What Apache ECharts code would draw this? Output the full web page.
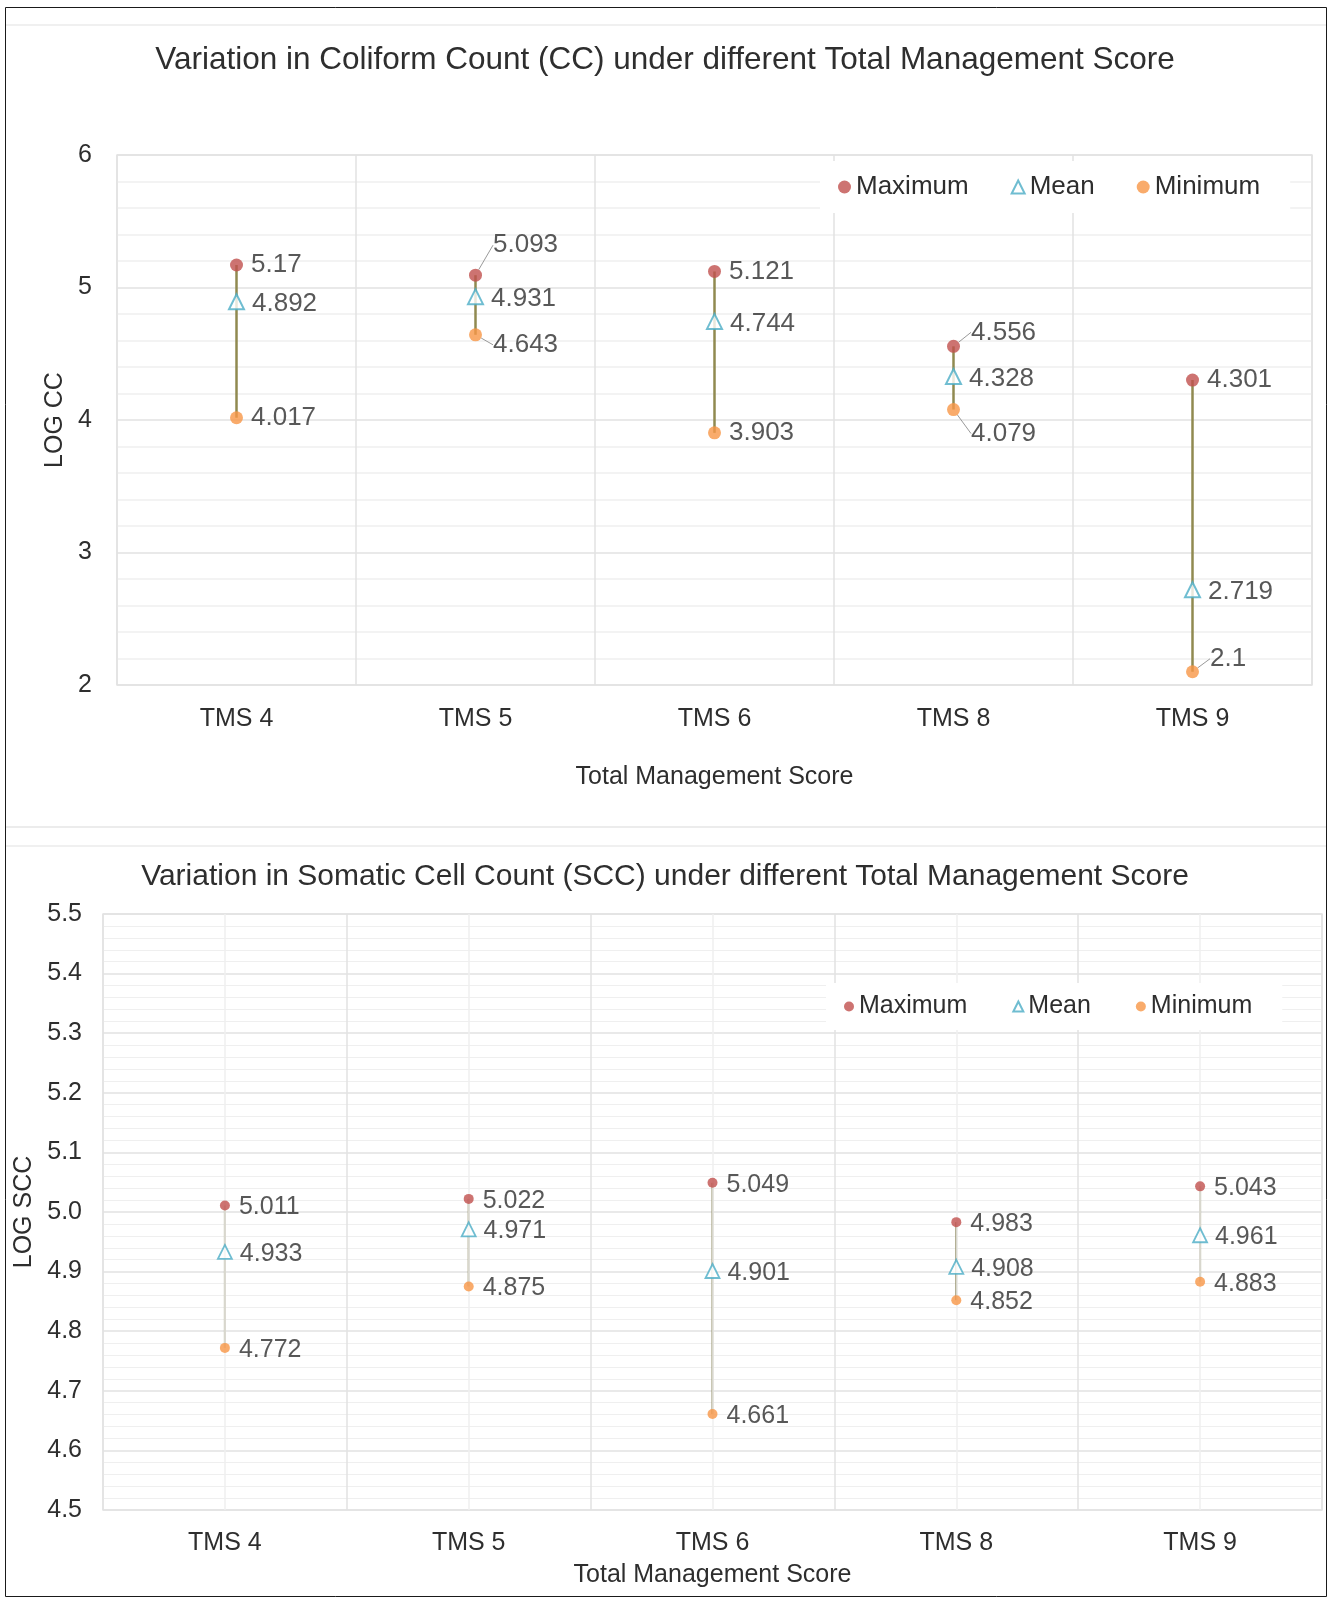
<!DOCTYPE html>
<html>
<head>
<meta charset="utf-8">
<script src="https://cdn.jsdelivr.net/npm/echarts@6/dist/echarts.min.js"></script>
<style>
  html, body { margin: 0; padding: 0; background: #ffffff; }
  #chart { width: 1330px; height: 1598px; }
</style>
</head>
<body>
<div id="chart"></div>
<script>
// Categories shared by both panels
const categories = ['TMS 4', 'TMS 5', 'TMS 6', 'TMS 8', 'TMS 9'];

// Coliform count (log CC)
const ccMax  = [5.17, 5.093, 5.121, 4.556, 4.301];
const ccMean = [4.892, 4.931, 4.744, 4.328, 2.719];
const ccMin  = [4.017, 4.643, 3.903, 4.079, 2.1];

// Somatic cell count (log SCC)
const sccMax  = [5.011, 5.022, 5.049, 4.983, 5.043];
const sccMean = [4.933, 4.971, 4.901, 4.908, 4.961];
const sccMin  = [4.772, 4.875, 4.661, 4.852, 4.883];

// Y axis tick ranges
const ccTicks  = { min: 2, max: 6, step: 1 };
const sccTicks = { min: 4.5, max: 5.5, step: 0.1 };

// Vertical nudges for labels that sit off their marker (with a leader line)
const ccMaxNudge  = [0, -30, 0, -14, 0];
const ccMinNudge  = [0, 10, 0, 24, -13];

const FONT = '"Liberation Sans", Arial, Helvetica, sans-serif';
const TXT = '#2e2e2e';
const RED = '#c0504d', TEAL = '#4bacc6', ORANGE = '#f79646';

function rangeLine(color, width) {
  return function (params, api) {
    const i = api.value(0);
    const lo = api.coord([i, api.value(1)]);
    const hi = api.coord([i, api.value(2)]);
    return {
      type: 'line',
      shape: { x1: lo[0], y1: lo[1], x2: hi[0], y2: hi[1] },
      style: { stroke: color, lineWidth: width }
    };
  };
}

function withLeader(values, nudges) {
  return values.map((v, i) => ({
    value: v,
    labelLine: { show: !!(nudges && nudges[i]) }
  }));
}

function pointSeries(name, values, idx, opts) {
  const nudges = opts.nudges;
  return {
    name: name,
    type: 'scatter',
    xAxisIndex: idx, yAxisIndex: idx,
    z: 5,
    symbol: opts.symbol,
    symbolSize: opts.size,
    itemStyle: opts.itemStyle,
    data: withLeader(values, nudges),
    label: {
      show: true, position: 'right', distance: opts.labelDist, offset: [0, 2],
      fontFamily: FONT, fontSize: opts.fontSize, color: TXT,
      formatter: p => String(p.value)
    },
    labelLine: { show: false, lineStyle: { color: '#9a9a9a', width: 1 } },
    labelLayout: nudges ? (p => ({ dx: nudges[p.dataIndex] ? 3 : 0, dy: nudges[p.dataIndex] })) : undefined,
    emphasis: { disabled: true }
  };
}

const chart = echarts.init(document.getElementById('chart'), null, { renderer: 'canvas' });

const legendBase = {
  data: ['Maximum', 'Mean', 'Minimum'],
  orient: 'horizontal',
  selectedMode: false,
  backgroundColor: '#ffffff',
  z: 10
};

const option = {
  animation: false,
  backgroundColor: '#ffffff',
  textStyle: { fontFamily: FONT },
  title: [
    {
      text: 'Variation in Coliform Count (CC) under different Total Management Score',
      left: 'center', top: 39,
      textStyle: { fontFamily: FONT, fontSize: 31.5, fontWeight: 'normal', color: TXT }
    },
    {
      text: 'Variation in Somatic Cell Count (SCC) under different Total Management Score',
      left: 'center', top: 857,
      textStyle: { fontFamily: FONT, fontSize: 30, fontWeight: 'normal', color: TXT }
    }
  ],
  legend: [
    Object.assign({}, legendBase, {
      left: 820, top: 161, padding: [13, 30, 13, 18],
      itemWidth: 13, itemHeight: 13, itemGap: 42,
      textStyle: { fontFamily: FONT, fontSize: 26, color: TXT }
    }),
    Object.assign({}, legendBase, {
      left: 826, top: 983, padding: [11, 30, 11, 18],
      itemWidth: 10, itemHeight: 10, itemGap: 45,
      textStyle: { fontFamily: FONT, fontSize: 25, color: TXT }
    })
  ],
  grid: [
    { left: 117, top: 155, width: 1195, height: 530, show: true, borderColor: '#e4e4e4', borderWidth: 1.5, containLabel: false },
    { left: 103, top: 914, width: 1219, height: 596, show: true, borderColor: '#e4e4e4', borderWidth: 1.5, containLabel: false }
  ],
  xAxis: [
    {
      gridIndex: 0, type: 'category', data: categories, boundaryGap: true,
      axisLine: { show: false }, axisTick: { show: false },
      axisLabel: { margin: 22, fontFamily: FONT, fontSize: 25, color: TXT },
      splitLine: { show: true, lineStyle: { color: '#e2e2e2', width: 1.5 } },
      name: 'Total Management Score', nameLocation: 'middle', nameGap: 80,
      nameTextStyle: { fontFamily: FONT, fontSize: 25, color: TXT }
    },
    {
      gridIndex: 1, type: 'category', data: categories, boundaryGap: true,
      axisLine: { show: false }, axisTick: { show: false },
      axisLabel: { margin: 21, fontFamily: FONT, fontSize: 25, color: TXT },
      splitLine: { show: true, lineStyle: { color: '#e2e2e2', width: 1.5 } },
      name: 'Total Management Score', nameLocation: 'middle', nameGap: 53,
      nameTextStyle: { fontFamily: FONT, fontSize: 25, color: TXT }
    }
  ],
  yAxis: [
    {
      gridIndex: 0, type: 'value', min: ccTicks.min, max: ccTicks.max, interval: ccTicks.step,
      axisLine: { show: false }, axisTick: { show: false },
      axisLabel: { margin: 25, fontFamily: FONT, fontSize: 25, color: TXT },
      splitLine: { show: true, lineStyle: { color: '#e2e2e2', width: 1.5 } },
      minorTick: { show: false, splitNumber: 5 },
      minorSplitLine: { show: true, lineStyle: { color: '#f0f0f0', width: 1.5 } },
      name: 'LOG CC', nameLocation: 'middle', nameGap: 36, nameRotate: 90,
      nameTextStyle: { fontFamily: FONT, fontSize: 25, color: TXT }
    },
    {
      gridIndex: 1, type: 'value', min: sccTicks.min, max: sccTicks.max, interval: sccTicks.step,
      axisLine: { show: false }, axisTick: { show: false },
      axisLabel: { margin: 21, fontFamily: FONT, fontSize: 25, color: TXT, formatter: v => v.toFixed(1) },
      splitLine: { show: true, lineStyle: { color: '#e2e2e2', width: 1.5 } },
      minorTick: { show: false, splitNumber: 5 },
      minorSplitLine: { show: true, lineStyle: { color: '#efefef', width: 1.2 } },
      name: 'LOG SCC', nameLocation: 'middle', nameGap: 50, nameRotate: 90,
      nameTextStyle: { fontFamily: FONT, fontSize: 25, color: TXT }
    }
  ],
  series: [
    // faint guide lines through category centres (lower panel)
    {
      name: 'centres', type: 'scatter', xAxisIndex: 1, yAxisIndex: 1, z: 0, data: [],
      markLine: {
        silent: true, symbol: 'none', label: { show: false },
        lineStyle: { color: '#efefef', width: 1.5, type: 'solid' },
        data: categories.map(c => ({ xAxis: c }))
      }
    },
    // min-to-max range lines
    {
      name: 'ccRange', type: 'custom', xAxisIndex: 0, yAxisIndex: 0, z: 2,
      renderItem: rangeLine('#908a50', 2.5),
      encode: { x: 0, y: [1, 2] },
      data: categories.map((c, i) => [i, ccMin[i], ccMax[i]])
    },
    {
      name: 'sccRange', type: 'custom', xAxisIndex: 1, yAxisIndex: 1, z: 2,
      renderItem: rangeLine('#938e68', 2),
      encode: { x: 0, y: [1, 2] },
      data: categories.map((c, i) => [i, sccMin[i], sccMax[i]])
    },
    // upper panel points
    pointSeries('Maximum', ccMax, 0, { symbol: 'circle', size: 13, itemStyle: { color: RED }, fontSize: 26, labelDist: 8, nudges: ccMaxNudge }),
    pointSeries('Mean', ccMean, 0, { symbol: 'triangle', size: [15, 15], itemStyle: { color: '#ffffff', borderColor: TEAL, borderWidth: 2 }, fontSize: 26, labelDist: 7 }),
    pointSeries('Minimum', ccMin, 0, { symbol: 'circle', size: 13, itemStyle: { color: ORANGE }, fontSize: 26, labelDist: 8, nudges: ccMinNudge }),
    // lower panel points
    pointSeries('Maximum', sccMax, 1, { symbol: 'circle', size: 10, itemStyle: { color: RED }, fontSize: 25, labelDist: 9 }),
    pointSeries('Mean', sccMean, 1, { symbol: 'triangle', size: [14, 14], itemStyle: { color: '#ffffff', borderColor: TEAL, borderWidth: 1.8 }, fontSize: 25, labelDist: 7 }),
    pointSeries('Minimum', sccMin, 1, { symbol: 'circle', size: 10, itemStyle: { color: ORANGE }, fontSize: 25, labelDist: 9 })
  ],
  graphic: [
    // outer frame and panel separators
    { type: 'rect', silent: true, z: 100, shape: { x: 5.5, y: 7.5, width: 1321, height: 1589 },
      style: { fill: null, stroke: '#1a1a1a', lineWidth: 1 } },
    { type: 'line', silent: true, shape: { x1: 6, y1: 25, x2: 1326, y2: 25 }, style: { stroke: '#f0f0f0', lineWidth: 2 } },
    { type: 'line', silent: true, shape: { x1: 6, y1: 827, x2: 1326, y2: 827 }, style: { stroke: '#ececec', lineWidth: 2 } },
    { type: 'line', silent: true, shape: { x1: 6, y1: 846, x2: 1326, y2: 846 }, style: { stroke: '#f0f0f0', lineWidth: 2 } }
  ]
};

chart.setOption(option);
</script>
</body>
</html>
